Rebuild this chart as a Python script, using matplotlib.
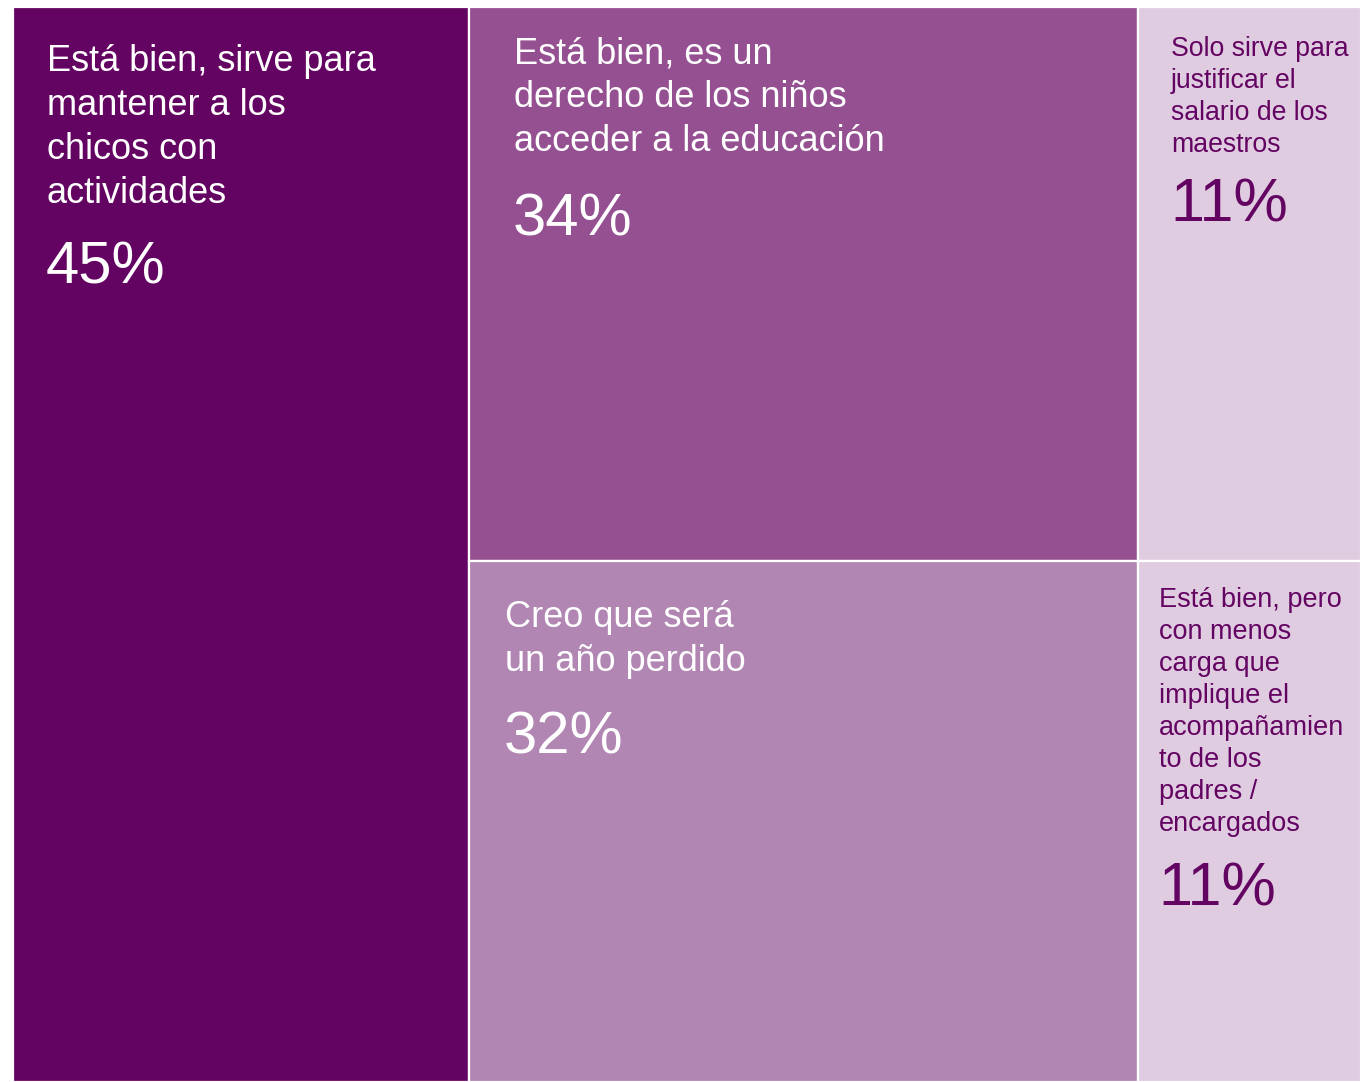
import matplotlib
matplotlib.use("Agg")
import matplotlib.pyplot as plt
from matplotlib.patches import Rectangle

# ---- data ----
categories = [
    "Está bien, sirve para\nmantener a los\nchicos con\nactividades",
    "Está bien, es un\nderecho de los niños\nacceder a la educación",
    "Creo que será\nun año perdido",
    "Solo sirve para\njustificar el\nsalario de los\nmaestros",
    "Está bien, pero\ncon menos\ncarga que\nimplique el\nacompañamien\nto de los\npadres /\nencargados",
]
values = [45, 34, 32, 11, 11]
value_labels = ["45%", "34%", "32%", "11%", "11%"]
columns = [[0], [1, 2], [3, 4]]  # treemap grouping

# ---- styles ----
fills = ["#640462", "#955092", "#B186B3", "#DFCCE1", "#DFCCE1"]
text_colors = ["white", "white", "white", "#640462", "#640462"]
label_sizes = [26, 26, 26, 19.2, 19.5]
pct_sizes = [43, 43, 43, 44, 44]
line_steps = [44, 44, 44, 32, 32]
text_x = [47, 514, 505, 1171, 1159]
first_baseline = [71, 63, 627, 56, 607]
pct_baseline = [284, 235, 753, 222, 905]

FONT = ["Liberation Sans", "DejaVu Sans"]

W, H = 1361, 1082
X0, Y0 = 13, 7
TW, TH = W - X0, H - Y0

fig = plt.figure(figsize=(W / 100, H / 100), dpi=100)
ax = fig.add_axes([0, 0, 1, 1])
ax.set_xlim(0, W)
ax.set_ylim(H, 0)
ax.axis("off")

total = sum(values)
# split fraction shared by the two stacked rows (from middle column)
mid = columns[1]
split = values[mid[0]] / sum(values[i] for i in mid)

x = X0
for col in columns:
    cw = TW * sum(values[i] for i in col) / total
    if len(col) == 1:
        rects = [(col[0], Y0, TH)]
    else:
        h1 = TH * split
        rects = [(col[0], Y0, h1), (col[1], Y0 + h1, TH - h1)]
    for i, y, h in rects:
        ax.add_patch(Rectangle((x, y), cw, h, facecolor=fills[i],
                               edgecolor="white", linewidth=1.6))
    x += cw

for i, lab in enumerate(categories):
    for k, line in enumerate(lab.split("\n")):
        ax.text(text_x[i], first_baseline[i] + k * line_steps[i], line,
                color=text_colors[i], fontsize=label_sizes[i],
                family=FONT, va="baseline", ha="left")
    ax.text(text_x[i] - 1, pct_baseline[i], value_labels[i],
            color=text_colors[i], fontsize=pct_sizes[i],
            family=FONT, va="baseline", ha="left")

fig.savefig("out.png", dpi=100, facecolor="white")
